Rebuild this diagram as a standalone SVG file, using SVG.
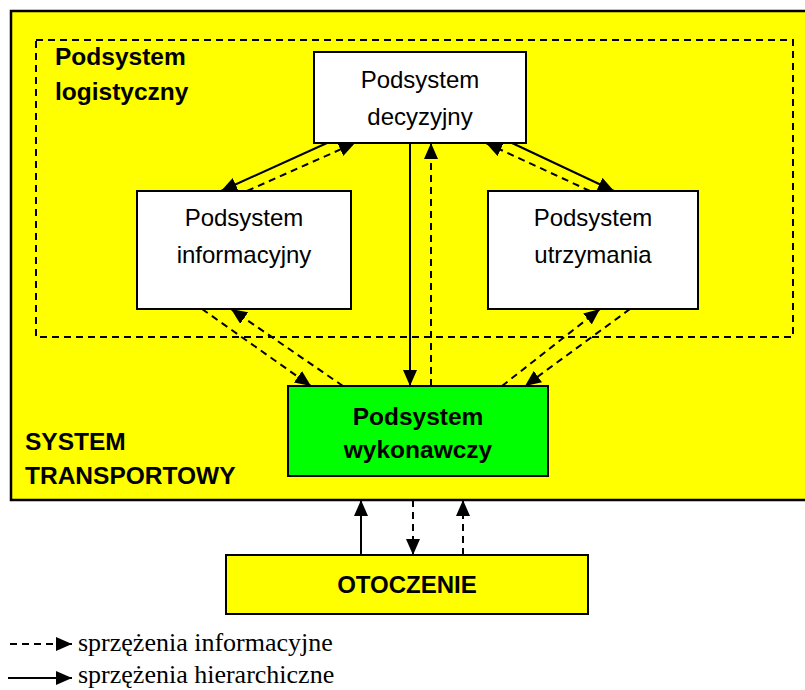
<svg xmlns="http://www.w3.org/2000/svg" width="805" height="690" viewBox="0 0 805 690">
<style>
.box{stroke:#000;stroke-width:2}
.w{fill:#fff}
.y{fill:#ffff00}
.g{fill:#00ff00}
.t{font-family:"Liberation Sans",Arial,sans-serif;font-size:24px;fill:#000;text-anchor:middle}
.b{font-family:"Liberation Sans",Arial,sans-serif;font-size:24.5px;font-weight:bold;fill:#000}
.c{stroke:#000;stroke-width:2;fill:none}
.d{stroke-dasharray:7 5}
.leg{font-family:"Liberation Serif","Times New Roman",serif;font-size:26px;fill:#000}
</style>
<defs>
<marker id="ah" viewBox="0 0 16 14" refX="16" refY="7" markerWidth="16" markerHeight="14" markerUnits="userSpaceOnUse" orient="auto"><path d="M0,0 L16,7 L0,14 z" fill="#000"/></marker>
</defs>
<rect width="805" height="690" fill="#fff"/>
<g id="system">
<rect x="11" y="11" width="800" height="489" class="y" stroke="#000" stroke-width="2.5"/>
<text class="b" x="25" y="450">SYSTEM</text>
<text class="b" x="25" y="484">TRANSPORTOWY</text>
</g>
<g id="logistyczny">
<rect x="36" y="40" width="757" height="297" fill="none" stroke="#000" stroke-width="2" stroke-dasharray="7 5"/>
<text class="b" x="55" y="65">Podsystem</text>
<text class="b" x="55" y="100">logistyczny</text>
</g>
<g id="decyzyjny">
<rect x="314" y="52" width="212" height="91" class="box w"/>
<text class="t" x="420" y="88">Podsystem</text>
<text class="t" x="420" y="125">decyzyjny</text>
</g>
<g id="informacyjny">
<rect x="137" y="191" width="214" height="118" class="box w"/>
<text class="t" x="244" y="226">Podsystem</text>
<text class="t" x="244" y="263">informacyjny</text>
</g>
<g id="utrzymania">
<rect x="488" y="191" width="210" height="118" class="box w"/>
<text class="t" x="593" y="226">Podsystem</text>
<text class="t" x="593" y="263">utrzymania</text>
</g>
<g id="wykonawczy">
<rect x="288" y="386" width="260" height="90" class="box g"/>
<text class="b" x="418" y="425" text-anchor="middle">Podsystem</text>
<text class="b" x="418" y="458" text-anchor="middle">wykonawczy</text>
</g>
<g id="otoczenie">
<rect x="226" y="555" width="362" height="59" class="box y"/>
<text class="b" x="407" y="593" text-anchor="middle" style="font-size:24px">OTOCZENIE</text>
</g>
<g id="connectors">
<line class="c" x1="327" y1="143" x2="221" y2="191" marker-end="url(#ah)"/>
<line class="c d" x1="247" y1="191" x2="355" y2="143" marker-end="url(#ah)"/>
<line class="c" x1="512" y1="143" x2="614" y2="191" marker-end="url(#ah)"/>
<line class="c d" x1="590" y1="191" x2="486" y2="143" marker-end="url(#ah)"/>
<line class="c" x1="410" y1="143" x2="410" y2="386" marker-end="url(#ah)"/>
<line class="c d" x1="431" y1="386" x2="431" y2="143" marker-end="url(#ah)"/>
<line class="c d" x1="202" y1="309" x2="311" y2="386" marker-end="url(#ah)"/>
<line class="c d" x1="343" y1="386" x2="231" y2="309" marker-end="url(#ah)"/>
<line class="c d" x1="502" y1="386" x2="600" y2="309" marker-end="url(#ah)"/>
<line class="c d" x1="630" y1="309" x2="525" y2="386" marker-end="url(#ah)"/>
<line class="c" x1="361" y1="555" x2="361" y2="500" marker-end="url(#ah)"/>
<line class="c d" x1="413" y1="500" x2="413" y2="555" marker-end="url(#ah)"/>
<line class="c d" x1="463" y1="555" x2="463" y2="500" marker-end="url(#ah)"/>
</g>
<g id="legend">
<line class="c d" x1="10" y1="644" x2="72" y2="644" marker-end="url(#ah)"/>
<text class="leg" x="78" y="651">sprzężenia informacyjne</text>
<line class="c" x1="8" y1="678" x2="72" y2="678" marker-end="url(#ah)"/>
<text class="leg" x="78" y="683">sprzężenia hierarchiczne</text>
</g>
</svg>
